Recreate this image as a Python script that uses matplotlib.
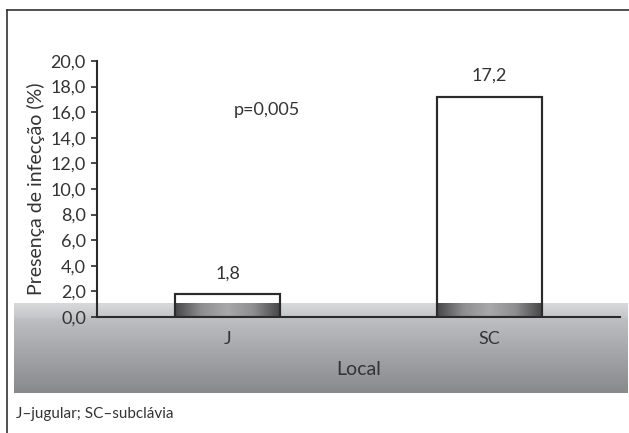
import numpy as np
import matplotlib
matplotlib.use("Agg")
import matplotlib.pyplot as plt
from matplotlib.colors import LinearSegmentedColormap

categories = ["J", "SC"]
values = [1.8, 17.2]
value_labels = ["1,8", "17,2"]
yticks = [0, 2, 4, 6, 8, 10, 12, 14, 16, 18, 20]
ytick_labels = ["0,0", "2,0", "4,0", "6,0", "8,0", "10,0", "12,0", "14,0", "16,0", "18,0", "20,0"]
ylabel = "Presença de infecção (%)"
xlabel = "Local"
annotation = "p=0,005"
caption = "J–jugular; SC–subclávia"

plt.rcParams['font.family'] = ['Lato', 'DejaVu Sans']
plt.rcParams['font.weight'] = 'normal'
txt = '#333333'

W, H = 629, 433
fig = plt.figure(figsize=(W / 100, H / 100), dpi=100)

# background layer in pixel coordinates
bg = fig.add_axes([0, 0, 1, 1], zorder=0)
bg.set_xlim(0, W)
bg.set_ylim(H, 0)
bg.axis('off')
band_cmap = LinearSegmentedColormap.from_list(
    'band', [(0.0, '#d9d9db'), (0.15, '#c6c7c9'), (0.18, '#bdbec1'), (1.0, '#88898d')])
grad = np.linspace(0, 1, 200).reshape(-1, 1)
bg.imshow(grad, cmap=band_cmap, extent=(14, 628, 393, 303), aspect='auto', zorder=1)
bg.plot([7, W], [10, 10], color='#333333', lw=1.2, zorder=2)
bg.plot([7, 7], [10, H], color='#333333', lw=1.2, zorder=2)
bg.text(16, 414, caption, fontsize=11, color=txt, va='center', ha='left')

# main chart axes
x0, x1, ytop, ybot = 97, 620, 61, 317
ax = fig.add_axes([x0 / W, (H - ybot) / H, (x1 - x0) / W, (ybot - ytop) / H], zorder=1)
ax.patch.set_alpha(0)

pos = np.arange(len(categories))
bw = 0.4
band_top_val = (ybot - 303) / ((ybot - ytop) / 20)
ax.bar(pos, values, width=bw, color='white', edgecolor='#2b2b2b', linewidth=1.5, zorder=3)
bar_cmap = LinearSegmentedColormap.from_list('bar', ['#484849', '#8e8e90', '#a8a8aa', '#8e8e90', '#484849'])
hgrad = np.linspace(0, 1, 200).reshape(1, -1)
for p, v in zip(pos, values):
    ax.imshow(hgrad, cmap=bar_cmap, extent=(p - bw / 2, p + bw / 2, 0, min(v, band_top_val)),
              aspect='auto', zorder=3.5)
    ax.bar([p], [v], width=bw, color='none', edgecolor='#2b2b2b', linewidth=1.5, zorder=4)
ax.set_xlim(-0.5, 1.5)
ax.set_ylim(0, 20)

for p, v, lab in zip(pos, values, value_labels):
    ax.text(p, v + 1.0, lab, ha='center', va='bottom', fontsize=13, color=txt)

ax.text(0.15, 16.2, annotation, ha='center', va='center', fontsize=13, color=txt)

for s in ['top', 'right']:
    ax.spines[s].set_visible(False)
for s in ['left', 'bottom']:
    ax.spines[s].set_color('#2b2b2b')
    ax.spines[s].set_linewidth(1.5)
    ax.spines[s].set_zorder(5)

ax.set_yticks(yticks)
ax.set_yticklabels(ytick_labels)
ax.set_xticks(pos)
ax.set_xticklabels(categories)
ax.tick_params(axis='y', direction='out', length=4, width=1.2, color='#2b2b2b', pad=4,
               labelsize=13, labelcolor=txt)
ax.tick_params(axis='x', length=0, pad=10, labelsize=13, labelcolor=txt)
ax.set_xlabel(xlabel, fontsize=14, color=txt, labelpad=10)
ax.set_ylabel(ylabel, fontsize=14, color=txt, labelpad=4)

fig.savefig('out.png', dpi=100)
